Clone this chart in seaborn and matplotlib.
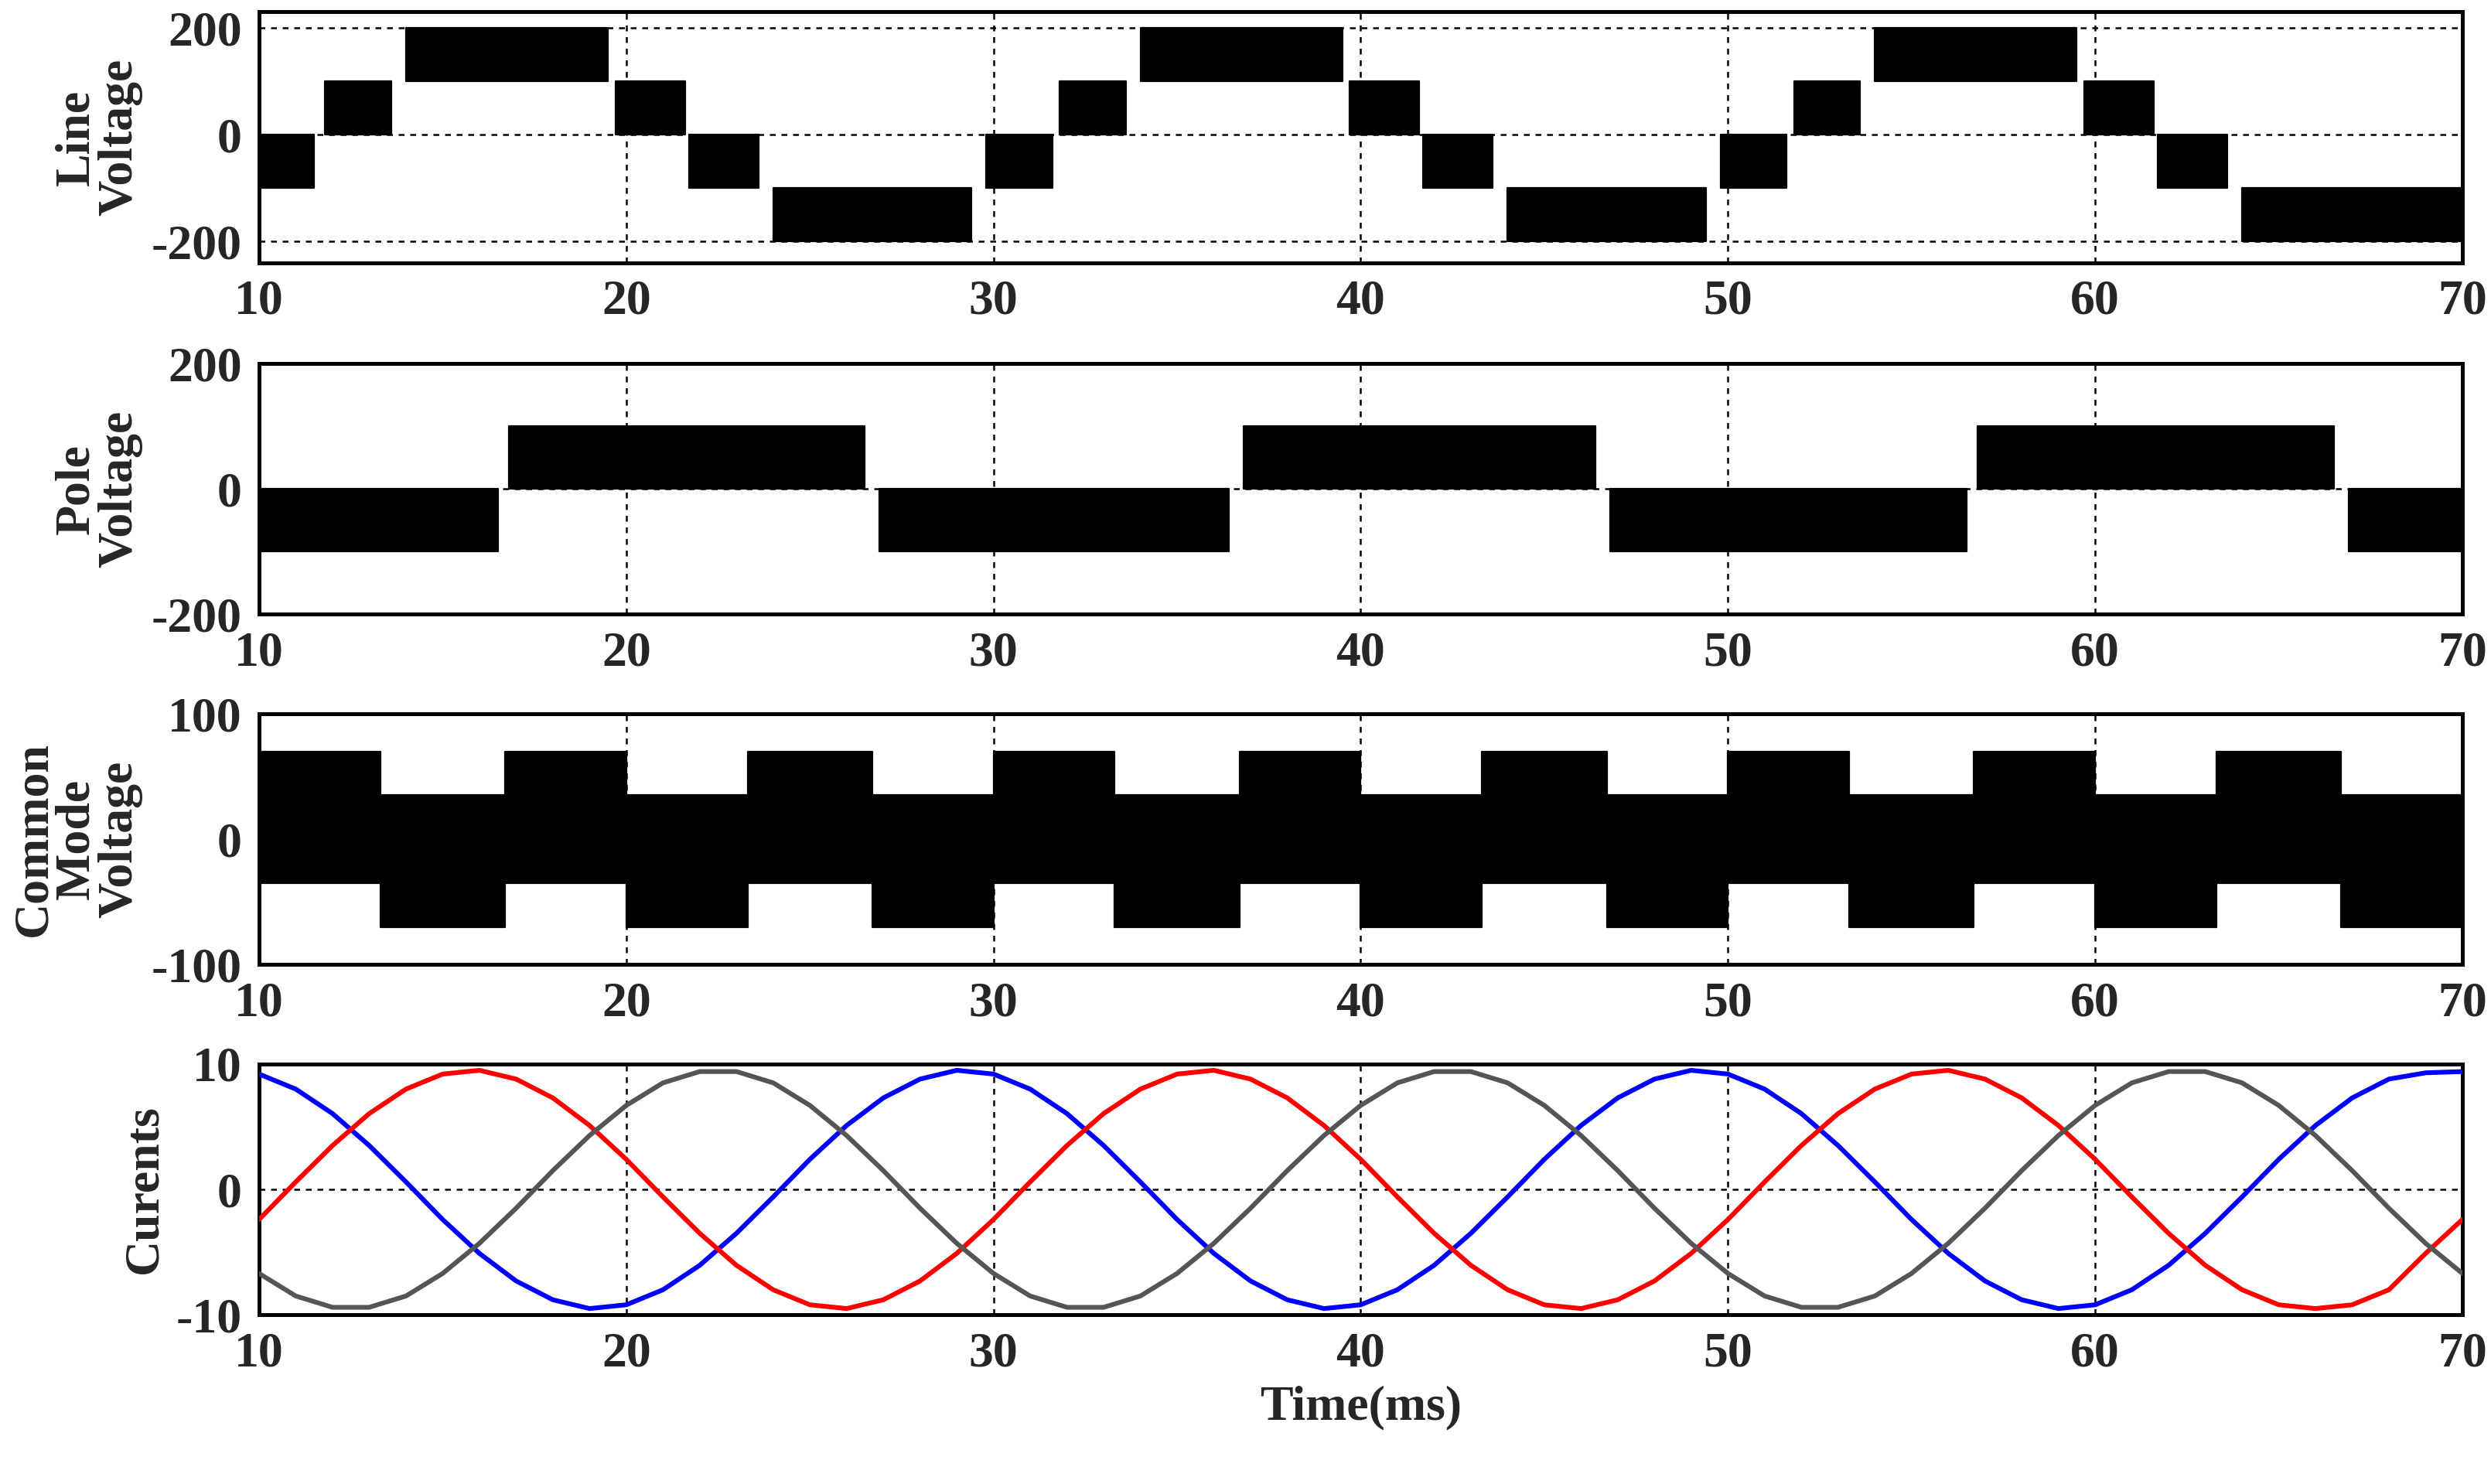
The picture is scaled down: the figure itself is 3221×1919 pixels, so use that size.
import matplotlib
matplotlib.use("Agg")
import matplotlib.pyplot as plt
import seaborn as sns
import pandas as pd

sns.set_style("white")
plt.rcParams["font.family"] = ["Liberation Serif", "DejaVu Serif"]
plt.rcParams["font.weight"] = "bold"
plt.rcParams["axes.unicode_minus"] = False

# PWM bands: (start ms, end ms, low, high)
line_bands = [
    (10.0, 11.5, -100, 0), (11.8, 13.6, 0, 100), (14.0, 19.5, 100, 200),
    (19.7, 21.6, 0, 100), (21.7, 23.6, -100, 0), (24.0, 29.4, -200, -100),
    (29.8, 31.6, -100, 0), (31.8, 33.6, 0, 100), (34.0, 39.5, 100, 200),
    (39.7, 41.6, 0, 100), (41.7, 43.6, -100, 0), (44.0, 49.4, -200, -100),
    (49.8, 51.6, -100, 0), (51.8, 53.6, 0, 100), (54.0, 59.5, 100, 200),
    (59.7, 61.6, 0, 100), (61.7, 63.6, -100, 0), (64.0, 70.0, -200, -100),
]
pole_bands = [
    (10.0, 16.5, -100, 0), (16.8, 26.5, 0, 100), (26.9, 36.4, -100, 0),
    (36.8, 46.4, 0, 100), (46.8, 56.5, -100, 0), (56.8, 66.5, 0, 100),
    (66.9, 70.0, -100, 0),
]
cm_bands = [
    (10.0, 13.3, -35, 70), (13.3, 16.7, -70, 35), (16.7, 20.0, -35, 70),
    (20.0, 23.3, -70, 35), (23.3, 26.7, -35, 70), (26.7, 30.0, -70, 35),
    (30.0, 33.3, -35, 70), (33.3, 36.7, -70, 35), (36.7, 40.0, -35, 70),
    (40.0, 43.3, -70, 35), (43.3, 46.7, -35, 70), (46.7, 50.0, -70, 35),
    (50.0, 53.3, -35, 70), (53.3, 56.7, -70, 35), (56.7, 60.0, -35, 70),
    (60.0, 63.3, -70, 35), (63.3, 66.7, -35, 70), (66.7, 70.0, -70, 35),
]

time_ms = list(range(10, 71))
i_blue = [9.2, 8.0, 6.05, 3.5, 0.6, -2.4, -5.1, -7.3, -8.8, -9.5,
          -9.2, -8.0, -6.05, -3.5, -0.6, 2.4, 5.1, 7.3, 8.8, 9.5,
          9.2, 8.0, 6.05, 3.5, 0.6, -2.4, -5.1, -7.3, -8.8, -9.5,
          -9.2, -8.0, -6.05, -3.5, -0.6, 2.4, 5.1, 7.3, 8.8, 9.5,
          9.2, 8.0, 6.05, 3.5, 0.6, -2.4, -5.1, -7.3, -8.8, -9.5,
          -9.2, -8.0, -6.05, -3.5, -0.6, 2.4, 5.1, 7.3, 8.8, 9.3, 9.4]
i_red = [-2.4, 0.6, 3.5, 6.05, 8.0, 9.2, 9.5, 8.8, 7.3, 5.1,
         2.4, -0.6, -3.5, -6.05, -8.0, -9.2, -9.5, -8.8, -7.3, -5.1,
         -2.4, 0.6, 3.5, 6.05, 8.0, 9.2, 9.5, 8.8, 7.3, 5.1,
         2.4, -0.6, -3.5, -6.05, -8.0, -9.2, -9.5, -8.8, -7.3, -5.1,
         -2.4, 0.6, 3.5, 6.05, 8.0, 9.2, 9.5, 8.8, 7.3, 5.1,
         2.4, -0.6, -3.5, -6.05, -8.0, -9.2, -9.5, -9.2, -8.0, -5.1, -2.4]
i_gray = [-6.7, -8.5, -9.4, -9.4, -8.5, -6.7, -4.3, -1.5, 1.5, 4.3,
          6.7, 8.5, 9.4, 9.4, 8.5, 6.7, 4.3, 1.5, -1.5, -4.3,
          -6.7, -8.5, -9.4, -9.4, -8.5, -6.7, -4.3, -1.5, 1.5, 4.3,
          6.7, 8.5, 9.4, 9.4, 8.5, 6.7, 4.3, 1.5, -1.5, -4.3,
          -6.7, -8.5, -9.4, -9.4, -8.5, -6.7, -4.3, -1.5, 1.5, 4.3,
          6.7, 8.5, 9.4, 9.4, 8.5, 6.7, 4.3, 1.5, -1.5, -4.3, -6.7]

FS = 23
fig = plt.figure(figsize=(16.105, 9.595), dpi=200)
L, W, H = 0.104, 0.8845, 0.169
bottoms = [0.823, 0.586, 0.350, 0.114]
axes = [fig.add_axes([L, b, W, H]) for b in bottoms]


def draw_bands(ax, bands):
    for t0, t1, lo, hi in bands:
        ax.fill_between([t0, t1], [lo, lo], [hi, hi], color="black", lw=0.8, zorder=3)


draw_bands(axes[0], line_bands)
draw_bands(axes[1], pole_bands)
draw_bands(axes[2], cm_bands)

df = pd.DataFrame({"t": time_ms, "blue": i_blue, "red": i_red, "gray": i_gray})
for col, c in [("blue", "#0000ff"), ("red", "#ff0000"), ("gray", "#555555")]:
    sns.lineplot(data=df, x="t", y=col, ax=axes[3], color=c, lw=2.2, zorder=3)

specs = [
    ((-240, 230), [-200, 0, 200], "Line\nVoltage"),
    ((-200, 200), [-200, 0, 200], "Pole\nVoltage"),
    ((-100, 100), [-100, 0, 100], "Common\nMode\nVoltage"),
    ((-10, 10), [-10, 0, 10], "Curents"),
]
for ax, (ylim, yt, lab) in zip(axes, specs):
    ax.set_xlim(10, 70)
    ax.set_ylim(*ylim)
    ax.set_yticks(yt)
    ax.set_xticks(range(10, 71, 10))
    ax.grid(True, color="black", ls=(0, (3, 3)), lw=0.9)
    for s in ax.spines.values():
        s.set_color("black")
        s.set_linewidth(1.8)
    ax.tick_params(labelsize=FS, length=0, pad=8)
    for t in ax.get_xticklabels() + ax.get_yticklabels():
        t.set_fontweight("bold")
    ax.set_xlabel("")
    ax.set_ylabel(lab, fontsize=FS, fontweight="bold", linespacing=0.95, labelpad=4)

axes[3].set_xlabel("Time(ms)", fontsize=FS, fontweight="bold", labelpad=4)

fig.savefig("out.png", dpi=200)
